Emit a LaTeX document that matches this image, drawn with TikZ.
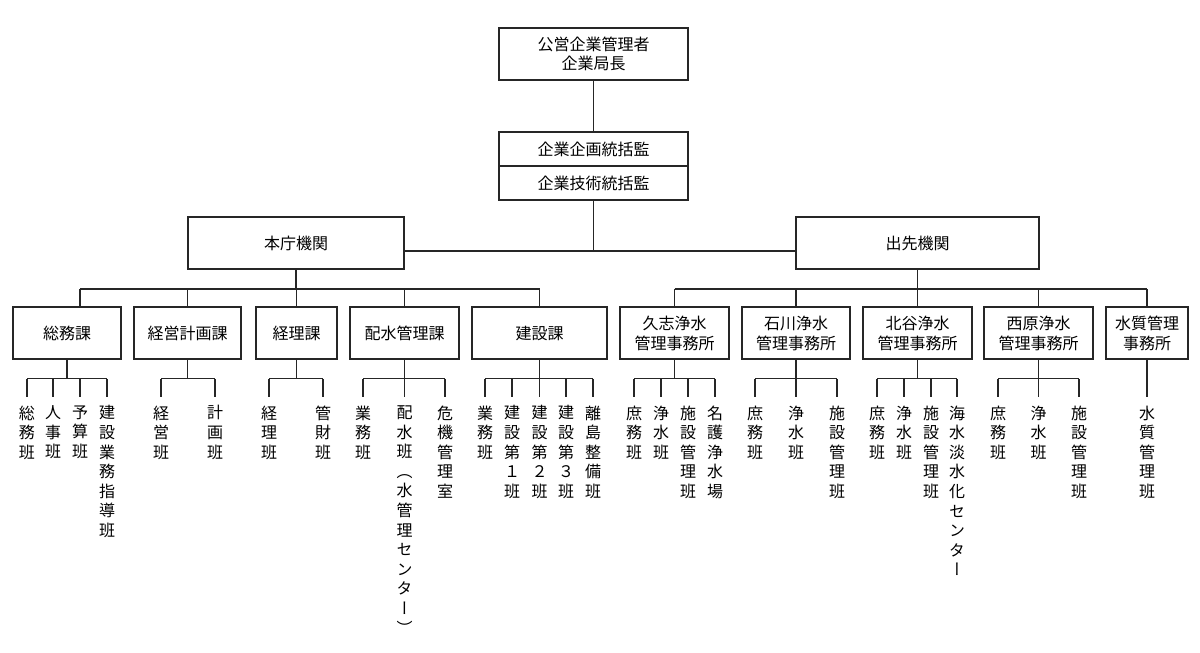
\documentclass[tikz,border=0pt]{standalone}
\usepackage{fontspec}
\setmainfont{Noto Sans CJK JP}
\newfontfamily\tatefont{Noto Sans CJK JP}[RawFeature=+vert]

\begin{document}
\begin{tikzpicture}[x=1pt,y=-1pt,line width=1.2pt,draw=black!85,
  box/.style={draw,line width=1.6pt,minimum height=52pt,align=center,inner sep=0pt,
    font=\fontsize{16}{20}\selectfont},
  han/.style={anchor=north,align=center,inner xsep=0pt,inner ysep=8pt,
    font=\tatefont\fontsize{16}{19.6}\selectfont}]
  \useasboundingbox (0,0) rectangle (1200,653);

  \node[box,minimum width=189pt,font=\fontsize{16}{18.5}\selectfont] (kanri) at (593.5,54) {公営企業管理者\\企業局長};
  \node[box,minimum width=189pt,minimum height=34pt] (kikaku) at (593.5,149) {企業企画統括監};
  \node[box,minimum width=189pt,minimum height=34pt] (gijutsu) at (593.5,183) {企業技術統括監};
  \draw (kanri) -- (kikaku);

  \node[box,minimum width=216pt] (honcho) at (296,243) {本庁機関};
  \node[box,minimum width=243pt] (desaki) at (917.5,243) {出先機関};
  \coordinate (mid) at (593.5,251);
  \draw (gijutsu) -- (mid);
  \draw (honcho.east |- mid) -- (desaki.west |- mid);

  % honcho
  \node[box,minimum width=108pt] (somu) at (67,333) {総務課};
  \node[box,minimum width=107pt] (keiei) at (187.5,333) {経営計画課};
  \node[box,minimum width=81pt] (keiri) at (296.5,333) {経理課};
  \node[box,minimum width=109pt] (haisui) at (404.5,333) {配水管理課};
  \node[box,minimum width=135pt] (kensetsu) at (539.5,333) {建設課};
  \coordinate (hbus) at (80,289);
  \draw (honcho) -- (honcho |- hbus);
  \draw (hbus) -- (hbus -| kensetsu.north);
  \draw (hbus) -- (hbus |- somu.north);
  \foreach \to in {keiei,keiri,haisui,kensetsu}
    \draw (\to.north |- hbus) -- (\to.north);

  % desaki
  \node[box,minimum width=109pt] (kushi) at (674.5,333) {久志浄水\\管理事務所};
  \node[box,minimum width=108pt] (ishikawa) at (796,333) {石川浄水\\管理事務所};
  \node[box,minimum width=109pt] (chatan) at (917.5,333) {北谷浄水\\管理事務所};
  \node[box,minimum width=109pt] (nishihara) at (1038.5,333) {西原浄水\\管理事務所};
  \node[box,minimum width=82pt] (suishitsu) at (1147,333) {水質管理\\事務所};
  \coordinate (dbus) at (674.5,289);
  \draw (desaki) -- (desaki |- dbus);
  \draw (dbus) -- (dbus -| suishitsu.north);
  \foreach \to in {kushi,ishikawa,chatan,nishihara,suishitsu}
    \draw (\to.north |- dbus) -- (\to.north);

  % han
  \node[han] (somu1) at (27,397) {総\\務\\班};
  \node[han] (somu2) at (53,397) {人\\事\\班};
  \node[han] (somu3) at (80,397) {予\\算\\班};
  \node[han] (somu4) at (107,397) {建\\設\\業\\務\\指\\導\\班};
  \node[han] (keiei1) at (161,397) {経\\営\\班};
  \node[han] (keiei2) at (215,397) {計\\画\\班};
  \node[han] (keiri1) at (269,397) {経\\理\\班};
  \node[han] (keiri2) at (323,397) {管\\財\\班};
  \node[han] (haisui1) at (363,397) {業\\務\\班};
  \node[han] (haisui2) at (404.5,397) {配\\水\\班\\（\\水\\管\\理\\セ\\ン\\タ\\ー\\）};
  \node[han] (haisui3) at (445,397) {危\\機\\管\\理\\室};
  \node[han] (kensetsu1) at (485,397) {業\\務\\班};
  \node[han] (kensetsu2) at (512,397) {建\\設\\第\\１\\班};
  \node[han] (kensetsu3) at (539.5,397) {建\\設\\第\\２\\班};
  \node[han] (kensetsu4) at (566,397) {建\\設\\第\\３\\班};
  \node[han] (kensetsu5) at (593,397) {離\\島\\整\\備\\班};
  \node[han] (kushi1) at (634,397) {庶\\務\\班};
  \node[han] (kushi2) at (661,397) {浄\\水\\班};
  \node[han] (kushi3) at (688,397) {施\\設\\管\\理\\班};
  \node[han] (kushi4) at (715,397) {名\\護\\浄\\水\\場};
  \node[han] (ishikawa1) at (755,397) {庶\\務\\班};
  \node[han] (ishikawa2) at (796,397) {浄\\水\\班};
  \node[han] (ishikawa3) at (837,397) {施\\設\\管\\理\\班};
  \node[han] (chatan1) at (877,397) {庶\\務\\班};
  \node[han] (chatan2) at (904,397) {浄\\水\\班};
  \node[han] (chatan3) at (931,397) {施\\設\\管\\理\\班};
  \node[han] (chatan4) at (957,397) {海\\水\\淡\\水\\化\\セ\\ン\\タ\\ー};
  \node[han] (nishihara1) at (998,397) {庶\\務\\班};
  \node[han] (nishihara2) at (1038.5,397) {浄\\水\\班};
  \node[han] (nishihara3) at (1079,397) {施\\設\\管\\理\\班};
  \node[han] (suishitsu1) at (1147,397) {水\\質\\管\\理\\班};

  \foreach \sec/\first/\last/\n in {somu/1/4/4,keiei/1/2/2,keiri/1/2/2,haisui/1/3/3,
      kensetsu/1/5/5,kushi/1/4/4,ishikawa/1/3/3,chatan/1/4/4,nishihara/1/3/3}
  {
    \draw (\sec.south) -- ++(0,19) coordinate (\sec j);
    \draw (\sec\first.north |- \sec j) -- (\sec\last.north |- \sec j);
    \foreach \i in {1,...,\n}
      \draw (\sec\i.north |- \sec j) -- (\sec\i.north);
  }
  \draw (suishitsu.south) -- (suishitsu1.north);

\end{tikzpicture}
\end{document}
